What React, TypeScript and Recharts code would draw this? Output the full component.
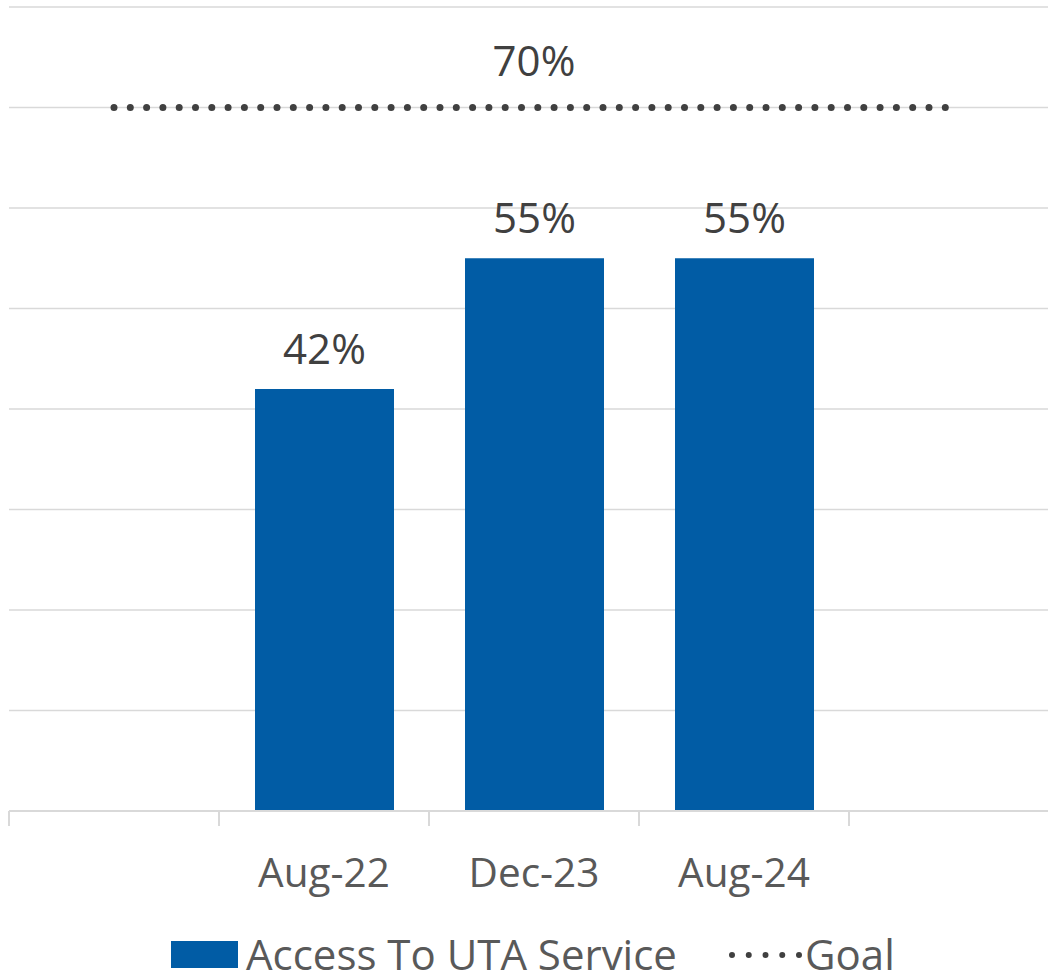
import {
  ComposedChart,
  Bar,
  Line,
  XAxis,
  YAxis,
  CartesianGrid,
  Legend,
  LabelList,
} from "recharts";

const categories = ["", "Aug-22", "Dec-23", "Aug-24", ""];
const accessValues = [null, 42, 55, 55, null];
const goalValues = [70, 70, 70, 70, 70];
const yTicks = [0, 10, 20, 30, 40, 50, 60, 70, 80];

const data = categories.map((month, i) => ({
  month,
  access: accessValues[i],
  goal: goalValues[i],
}));

const FONT = "'Open Sans', sans-serif";
const BLUE = "#015ca5";
const GRID = "#d9d9d9";

const CHART_W = 1060;
const CHART_H = 972;
const MARGIN = { top: 7, right: 1, left: 9, bottom: 0 };
const BAND = (CHART_W - MARGIN.left - MARGIN.right) / categories.length;

function CategoryTick(props: any) {
  const { x, y, payload } = props;
  const edge = x - BAND / 2;
  return (
    <g>
      <line x1={edge} y1={y} x2={edge} y2={y + 15} stroke={GRID} strokeWidth={2} />
      {payload.value ? (
        <text
          x={x}
          y={y + 76}
          textAnchor="middle"
          fontSize={40.5}
          fontFamily={FONT}
          fill="#595959"
        >
          {payload.value}
        </text>
      ) : null}
    </g>
  );
}

function BarValueLabel(props: any) {
  const { x, y, width, value } = props;
  if (value == null) return null;
  return (
    <text
      x={x + width / 2}
      y={y - 25}
      textAnchor="middle"
      fontSize={42}
      fontFamily={FONT}
      fill="#404040"
    >
      {value}%
    </text>
  );
}

function GoalLabel(props: any) {
  const { x, y, value, index } = props;
  if (index !== 2) return null;
  return (
    <text
      x={x}
      y={y - 32}
      textAnchor="middle"
      fontSize={42}
      fontFamily={FONT}
      fill="#404040"
    >
      {value}%
    </text>
  );
}

function ChartLegend() {
  const textStyle = {
    position: "absolute" as const,
    top: 0,
    fontFamily: FONT,
    fontSize: 42,
    color: "#595959",
    lineHeight: "36px",
    whiteSpace: "nowrap" as const,
  };
  return (
    <div style={{ position: "relative", height: 36, width: 1000 }}>
      <div
        style={{
          position: "absolute",
          left: 162,
          top: 5,
          width: 67,
          height: 27,
          background: BLUE,
        }}
      />
      <span style={{ ...textStyle, left: 237 }}>Access To UTA Service</span>
      <svg width={80} height={36} style={{ position: "absolute", left: 719, top: 0 }}>
        <line
          x1={4}
          y1={19}
          x2={72}
          y2={19}
          stroke="#404040"
          strokeWidth={6}
          strokeLinecap="round"
          strokeDasharray="0 16.75"
        />
      </svg>
      <span style={{ ...textStyle, left: 796 }}>Goal</span>
    </div>
  );
}

export default function App() {
  return (
    <div
      style={{
        position: "absolute",
        left: 0,
        top: 0,
        width: 1048,
        height: 972,
        overflow: "hidden",
        background: "#ffffff",
      }}
    >
      <ComposedChart width={CHART_W} height={CHART_H} data={data} margin={MARGIN}>
        <CartesianGrid vertical={false} stroke={GRID} strokeWidth={1.5} />
        <XAxis
          dataKey="month"
          height={125}
          interval={0}
          axisLine={{ stroke: GRID, strokeWidth: 2 }}
          tickLine={false}
          tickSize={0}
          tickMargin={0}
          tick={<CategoryTick />}
        />
        <YAxis hide domain={[0, 80]} ticks={yTicks} />
        <Legend verticalAlign="bottom" height={36} content={() => <ChartLegend />} />
        <Bar dataKey="access" name="Access To UTA Service" fill={BLUE} barSize={139} isAnimationActive={false}>
          <LabelList dataKey="access" content={<BarValueLabel />} />
        </Bar>
        <Line
          dataKey="goal"
          name="Goal"
          stroke="#404040"
          strokeWidth={7}
          strokeLinecap="round"
          strokeDasharray="0 16.3"
          dot={false}
          activeDot={false}
          isAnimationActive={false}
        >
          <LabelList dataKey="goal" content={<GoalLabel />} />
        </Line>
      </ComposedChart>
    </div>
  );
}
